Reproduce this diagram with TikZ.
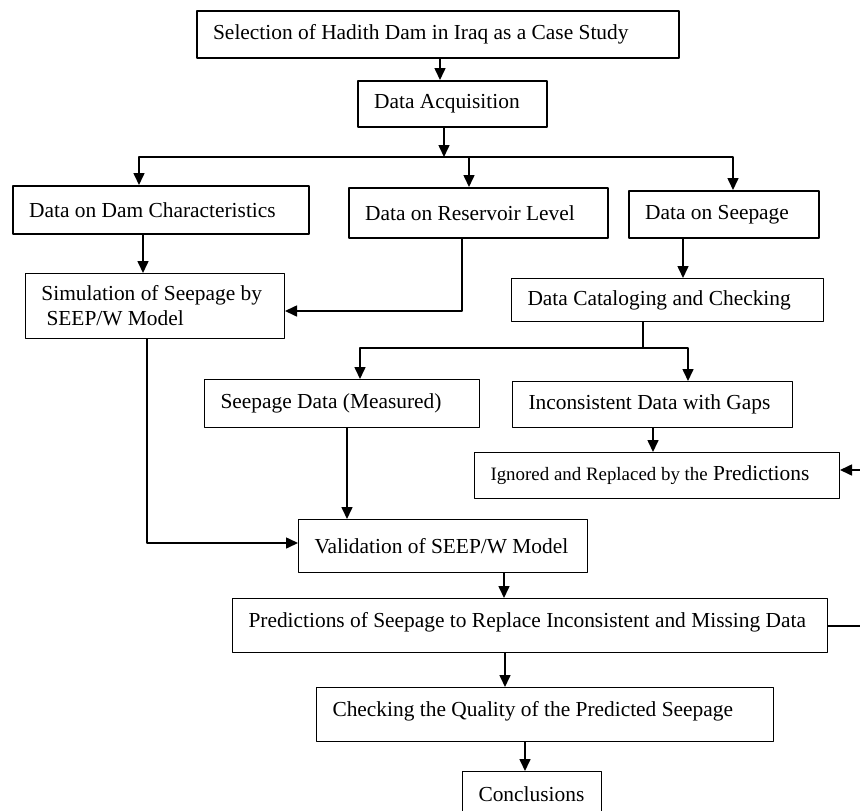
\documentclass[tikz,border=0pt]{standalone}
\usepackage{fontspec}
\setmainfont{Liberation Serif}
\usetikzlibrary{arrows.meta}
\tikzset{
  box/.style={draw, anchor=north west, inner xsep=0pt, inner ysep=0pt, align=flush left, line width=1pt},
  boldbox/.style={box, line width=2.2pt},
  link/.style={line width=1.6pt},
}
\begin{document}
\begin{tikzpicture}[x=1pt, y=-1pt, font=\fontsize{21.4}{25}\selectfont, line join=round, >={Triangle[length=12pt,width=11pt]}]
		\def\lpad{\hspace*{16pt}}
		\useasboundingbox (0,0) rectangle (860,811);
		\clip (0,0) rectangle (860,811);
		% boxes
		\node[boldbox, text width=482pt, minimum height=47pt] (sel) at (196,10) {\lpad Selection of Hadith Dam in Iraq as a Case Study};
		\node[boldbox, text width=189pt, minimum height=46pt] (acq) at (357,80) {\lpad Data Acquisition};
		\node[boldbox, text width=296pt, minimum height=48pt] (dam) at (12,185) {\lpad Data on Dam Characteristics};
		\node[boldbox, text width=259pt, minimum height=50pt] (res) at (348,187) {\lpad Data on Reservoir Level};
		\node[boldbox, text width=190pt, minimum height=47pt] (seep) at (628,190) {\lpad Data on Seepage};
		\node[box, text width=259pt, minimum height=65pt] (sim) at (25,273) {\lpad Simulation of Seepage by\\\hspace*{21pt}SEEP/W Model};
		\node[box, text width=312pt, minimum height=43pt] (cat) at (511,278) {\lpad Data Cataloging and Checking};
		\node[box, text width=275pt, minimum height=48pt] (meas) at (204,379) {\lpad Seepage Data (Measured)};
		\node[box, text width=280pt, minimum height=46pt] (inc) at (512,381) {\lpad Inconsistent Data with Gaps};
		\node[box, text width=365pt, minimum height=46pt] (ign) at (474,452) {\lpad{\fontsize{18.9}{25}\selectfont Ignored and Replaced by the} Predictions};
		\node[box, text width=289pt, minimum height=53pt] (val) at (298,519) {\lpad Validation of SEEP/W Model};
		\node[box, text width=595pt, minimum height=54pt, text depth=12pt] (pred) at (232,598) {\lpad Predictions of Seepage to Replace Inconsistent and Missing Data};
		\node[box, text width=457pt, minimum height=54pt, text depth=12pt] (chk) at (316,687) {\lpad Checking the Quality of the Predicted Seepage};
		\node[box, text width=139pt, minimum height=46pt] (conc) at (462,771) {\lpad Conclusions};
		% connectors
		\coordinate (split1) at (444,157);
		\coordinate (split2) at (643,348);
		\draw[link,->] (sel.south -| 440,0) -- (acq.north -| 440,0);
		\draw[link,->] (acq.south -| split1) -- (split1);
		\draw[link,->] (split1) -| (dam.north -| 139,0);
		\draw[link,->] (split1) -| (res.north -| 469,0);
		\draw[link,->] (split1) -| (seep.north -| 733,0);
		\draw[link,->] (dam.south -| 143,0) -- (sim.north -| 143,0);
		\draw[link,->] (res.south -| 462,0) |- (sim.east |- 0,311);
		\draw[link,->] (seep.south -| 683,0) -- (cat.north -| 683,0);
		\draw[link] (cat.south -| split2) -- (split2);
		\draw[link,->] (split2) -| (meas.north -| 360,0);
		\draw[link,->] (split2) -| (inc.north -| 688,0);
		\draw[link,->] (inc.south -| 653,0) -- (ign.north -| 653,0);
		\draw[link,->] (sim.south -| 147,0) |- (val.west |- 0,543);
		\draw[link,->] (meas.south -| 347,0) -- (val.north -| 347,0);
		\draw[link,->] (val.south -| 504,0) -- (pred.north -| 504,0);
		\draw[link,->] (pred.east |- 0,626) -- ++(60,0) |- (ign.east |- 0,470);
		\draw[link,->] (pred.south -| 505,0) -- (chk.north -| 505,0);
		\draw[link,->] (chk.south -| 525,0) -- (conc.north -| 525,0);
		\end{tikzpicture}
\end{document}
